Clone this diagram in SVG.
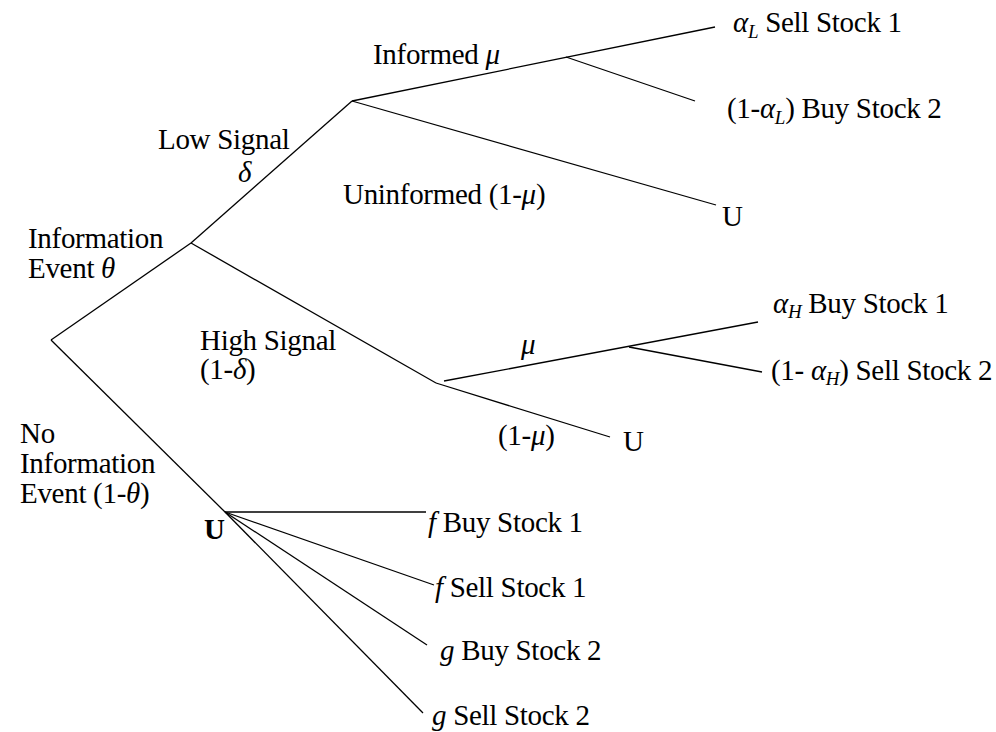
<svg xmlns="http://www.w3.org/2000/svg" width="996" height="732" viewBox="0 0 996 732">
<style>
text{font-family:"Liberation Serif","Times New Roman","DejaVu Serif",serif;font-size:29px;letter-spacing:-0.3px;fill:#000}
.i{font-style:italic}
.s{font-size:19px;font-style:italic}
.b{font-weight:bold}
.e{stroke:#000;stroke-width:1.3;fill:none}
</style>
<rect width="996" height="732" fill="#fff"/>
<g id="connectors" class="e">
<line x1="51" y1="340" x2="191" y2="243"/>
<line x1="51" y1="340" x2="225" y2="512"/>
<line x1="191" y1="243" x2="352" y2="101"/>
<line x1="191" y1="243" x2="436" y2="383"/>
<line x1="352" y1="101" x2="715" y2="27"/>
<line x1="566" y1="57" x2="695" y2="101"/>
<line x1="352" y1="101" x2="716" y2="205"/>
<line x1="444" y1="381" x2="758" y2="322"/>
<line x1="629" y1="347" x2="762" y2="372"/>
<line x1="436" y1="383" x2="610" y2="437"/>
<line x1="225" y1="512" x2="426" y2="512"/>
<line x1="225" y1="512" x2="434" y2="585"/>
<line x1="225" y1="512" x2="427" y2="645"/>
<line x1="225" y1="512" x2="423" y2="713"/>
</g>
<g id="root"><text x="28" y="248">Information</text><text x="28" y="278">Event <tspan class="i">θ</tspan></text></g>
<g id="low-signal"><text x="158" y="149">Low Signal</text><text x="238" y="182" class="i">δ</text></g>
<g id="high-signal"><text x="200" y="350">High Signal</text><text x="200" y="379">(1-<tspan class="i">δ</tspan>)</text></g>
<g id="no-info"><text x="20" y="443">No</text><text x="20" y="473">Information</text><text x="20" y="503">Event (1-<tspan class="i">θ</tspan>)</text></g>
<g id="informed"><text x="373" y="64">Informed <tspan class="i">μ</tspan></text></g>
<g id="uninformed"><text x="343" y="204">Uninformed (1-<tspan class="i">μ</tspan>)</text></g>
<g id="leaf-aL"><text x="733" y="32"><tspan class="i">α</tspan><tspan class="s" dy="6">L</tspan><tspan dy="-6"> Sell Stock 1</tspan></text></g>
<g id="leaf-1aL"><text x="727" y="118">(1-<tspan class="i">α</tspan><tspan class="s" dy="6">L</tspan><tspan dy="-6">) Buy Stock 2</tspan></text></g>
<g id="leaf-U1"><text x="722" y="226">U</text></g>
<g id="mu-h"><text x="521" y="354" class="i">μ</text></g>
<g id="one-mu-h"><text x="498" y="445">(1-<tspan class="i">μ</tspan>)</text></g>
<g id="leaf-aH"><text x="773" y="313"><tspan class="i">α</tspan><tspan class="s" dy="5">H</tspan><tspan dy="-5"> Buy Stock 1</tspan></text></g>
<g id="leaf-1aH"><text x="771" y="380">(1- <tspan class="i">α</tspan><tspan class="s" dy="5">H</tspan><tspan dy="-5">) Sell Stock 2</tspan></text></g>
<g id="leaf-U2"><text x="623" y="451">U</text></g>
<g id="node-U"><text x="204" y="539" class="b">U</text></g>
<g id="leaf-f1"><text x="428" y="532"><tspan class="i">f</tspan> Buy Stock 1</text></g>
<g id="leaf-f2"><text x="435" y="597"><tspan class="i">f</tspan> Sell Stock 1</text></g>
<g id="leaf-g1"><text x="440" y="660"><tspan class="i">g</tspan> Buy Stock 2</text></g>
<g id="leaf-g2"><text x="432" y="725"><tspan class="i">g</tspan> Sell Stock 2</text></g>
</svg>
